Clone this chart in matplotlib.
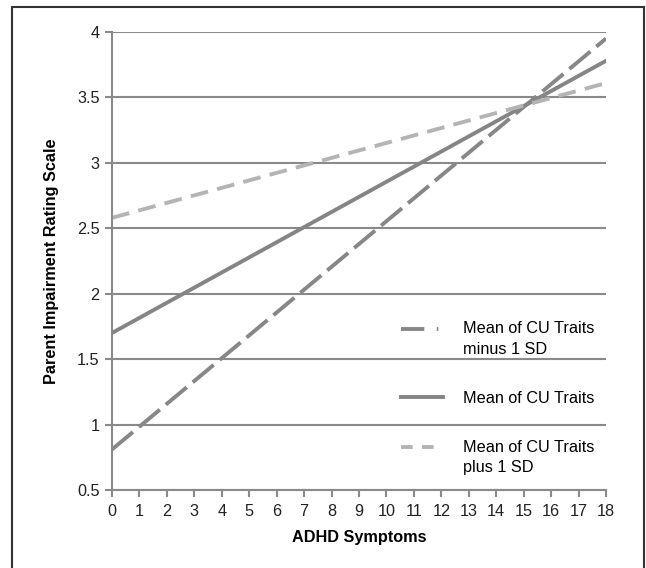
import numpy as np
import matplotlib
matplotlib.use('Agg')
import matplotlib.pyplot as plt
from matplotlib.patches import Rectangle
from matplotlib.lines import Line2D
from matplotlib.legend_handler import HandlerLine2D

plt.rcParams['font.family'] = ['Liberation Sans', 'DejaVu Sans']

# data: line end points at ADHD = 0 and 18
adhd = [0, 18]
minus_sd = [0.81, 3.95]
mean_cu = [1.70, 3.78]
plus_sd = [2.58, 3.61]

labels = ['Mean of CU Traits\nminus 1 SD', 'Mean of CU Traits', 'Mean of CU Traits\nplus 1 SD']
xticks = list(range(0, 19))
yticks = [0.5, 1, 1.5, 2, 2.5, 3, 3.5, 4]

grey = '#8a8a8a'
c_minus = '#878787'
c_mean = '#858585'
c_plus = '#b4b4b4'
fs = 11.7


class UpHandler(HandlerLine2D):
    # legend key lined up with the first text line, not the middle
    def __init__(self, shift=0, **kw):
        super().__init__(**kw)
        self.shift = shift

    def create_artists(self, legend, orig_handle, xdescent, ydescent, width, height, fontsize, trans):
        return super().create_artists(legend, orig_handle, xdescent, ydescent - self.shift,
                                      width, height, fontsize, trans)


fig = plt.figure(figsize=(6.46, 5.68), dpi=100)
ax = fig.add_axes([112/646, 1-490/568, (606-112)/646, (490-32)/568])

ax.plot(adhd, minus_sd, color=c_minus, lw=2.8, linestyle=(0, (7, 2)))
ax.plot(adhd, mean_cu, color=c_mean, lw=2.8)
ax.plot(adhd, plus_sd, color=c_plus, lw=2.8, linestyle=(0, (4.6, 2.4)))

ax.set_xlim(0, 18)
ax.set_ylim(0.5, 4)
ax.set_xticks(xticks)
ax.set_yticks(yticks)
ax.set_yticklabels([('%g' % v) for v in yticks])
ax.yaxis.grid(True, color=grey, lw=1.5)
ax.set_axisbelow(True)
for s in ['top', 'right']:
    ax.spines[s].set_visible(False)
for s in ['left', 'bottom']:
    ax.spines[s].set_color(grey)
    ax.spines[s].set_linewidth(1.5)
ax.tick_params(axis='both', colors=grey, width=1.5, length=5, labelsize=fs,
               labelcolor='#222222')
ax.tick_params(axis='y', pad=4)
ax.tick_params(axis='x', pad=5)

ax.set_xlabel('ADHD Symptoms', fontweight='bold', fontsize=fs, labelpad=8)
ax.set_ylabel('Parent Impairment Rating Scale', fontweight='bold', fontsize=fs, labelpad=13)

# legend keys
h1 = Line2D([], [], color=c_minus, lw=2.8, linestyle=(0, (6, 3.2, 0.4, 3)))
h2 = Line2D([], [], color=c_mean, lw=2.8)
h3 = Line2D([], [], color=c_plus, lw=2.8, linestyle=(0, (3, 2.4)))
leg = fig.legend(handles=[h1, h2, h3], labels=labels, loc='center left',
                 bbox_to_anchor=(0.598, 0.299), frameon=False, fontsize=fs,
                 handlelength=2.6, labelspacing=2.1, handletextpad=1.2,
                 handler_map={h1: UpHandler(shift=15), h3: UpHandler(shift=15)})
for t in leg.get_texts():
    t.set_linespacing(1.45)

# frame round the whole figure
fig.patches.append(Rectangle((12/646, -0.01), (644-12)/646, 1-7/568+0.01,
                             transform=fig.transFigure, fill=False,
                             edgecolor='#333333', lw=1.5))

fig.savefig('out.png', dpi=100)
